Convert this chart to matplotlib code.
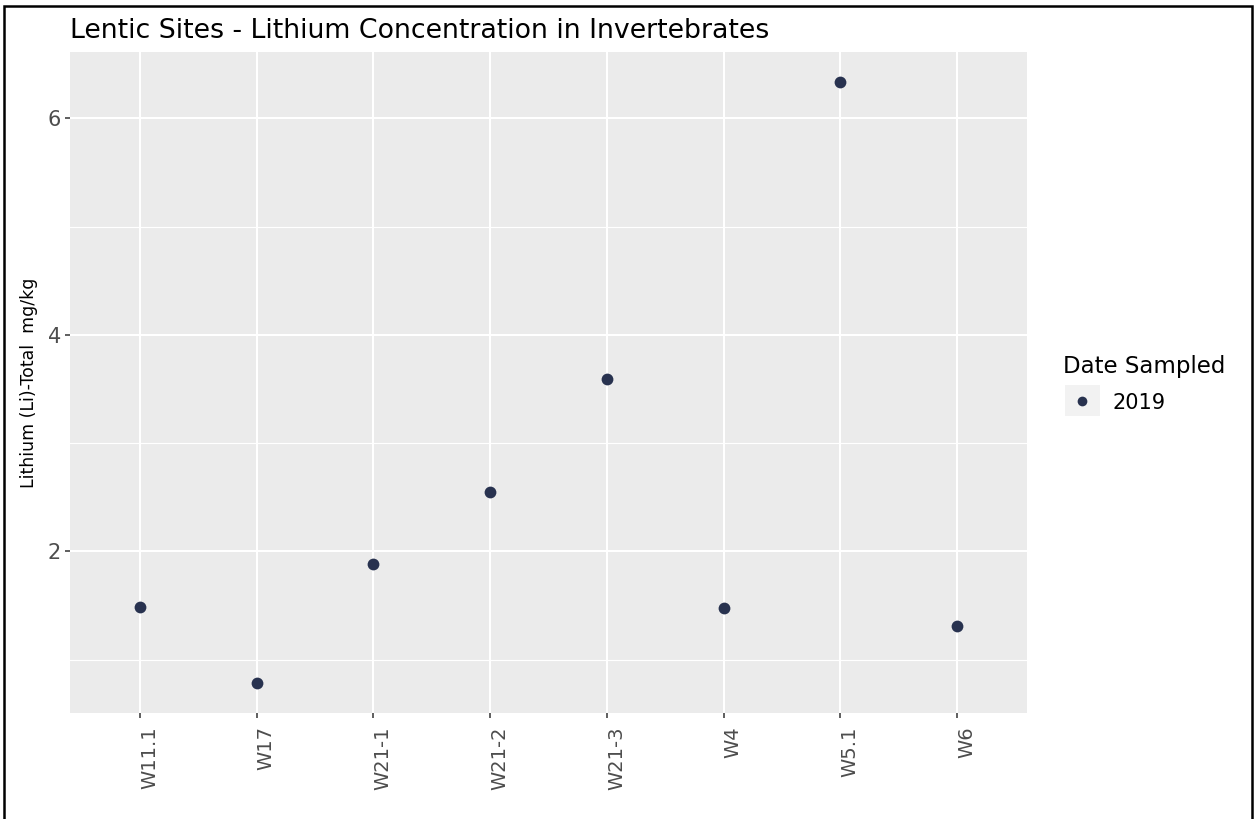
import numpy as np
import matplotlib
matplotlib.use('Agg')
import matplotlib.pyplot as plt
from matplotlib.patches import Rectangle
from matplotlib.lines import Line2D

plt.rcParams['font.family'] = ['DejaVu Sans']

# data
sites = ['W11.1', 'W17', 'W21-1', 'W21-2', 'W21-3', 'W4', 'W5.1', 'W6']
lithium = [1.49, 0.785, 1.88, 2.545, 3.59, 1.48, 6.335, 1.31]
year_label = '2019'
y_ticks = [2, 4, 6]
y_minor = [1, 3, 5]

W, H = 1254, 819
fig = plt.figure(figsize=(W / 100, H / 100), dpi=100)
fig.patch.set_facecolor('white')

# panel position in pixels
px_l, px_r, px_t, px_b = 70, 1027, 52, 713
ax = fig.add_axes([px_l / W, 1 - px_b / H, (px_r - px_l) / W, (px_b - px_t) / H])
ax.set_facecolor('#ebebeb')

x = np.arange(len(sites))
point_col = '#28324f'
ax.scatter(x, lithium, s=72, color=point_col, zorder=3, linewidths=0)

# ggplot-like expansion
ax.set_xlim(-0.6, len(sites) - 1 + 0.6)
lo, hi = min(lithium), max(lithium)
pad = (hi - lo) * 0.05
ax.set_ylim(lo - pad, hi + pad)

ax.set_xticks(x)
ax.set_xticklabels(sites, rotation=90, fontsize=14, color='#4d4d4d', va='top', ha='left')
ax.set_yticks(y_ticks)
ax.set_yticklabels([str(t) for t in y_ticks], fontsize=15, color='#4d4d4d')
ax.set_yticks(y_minor, minor=True)
ax.tick_params(axis='both', which='major', length=3.5, width=1.1, color='#333333', pad=3)
ax.tick_params(axis='x', which='major', pad=6)
ax.tick_params(axis='y', which='minor', length=0)

ax.grid(True, which='major', color='white', linewidth=1.5)
ax.grid(True, which='minor', axis='y', color='white', linewidth=0.8)
ax.set_axisbelow(True)
for sp in ax.spines.values():
    sp.set_visible(False)

fig.text(29 / W, 1 - 383 / H, 'Lithium (Li)-Total  mg/kg', fontsize=12.5, color='black',
         rotation=90, ha='center', va='center')
fig.text(px_l / W, 1 - 38 / H, 'Lentic Sites - Lithium Concentration in Invertebrates',
         fontsize=19.3, color='black', ha='left', va='baseline')

# legend
fig.text(1063 / W, 1 - 373 / H, 'Date Sampled', fontsize=16.5, color='black', ha='left', va='baseline')
fig.patches.append(Rectangle((1065 / W, 1 - 416 / H), 35 / W, 31 / H,
                             transform=fig.transFigure, facecolor='#f2f2f2', edgecolor='none'))
fig.lines.append(Line2D([1082 / W], [1 - 401 / H], transform=fig.transFigure, marker='o',
                        markersize=7, color=point_col, markeredgewidth=0, linestyle='none'))
fig.text(1113 / W, 1 - 403 / H, year_label, fontsize=15, color='black', ha='left', va='center')

# outer frame
fig.patches.append(Rectangle((4 / W, -0.01), 1248 / W, (H - 6) / H + 0.01,
                             transform=fig.transFigure, facecolor='none',
                             edgecolor='black', linewidth=1.8))

fig.savefig('out.png', dpi=100)
